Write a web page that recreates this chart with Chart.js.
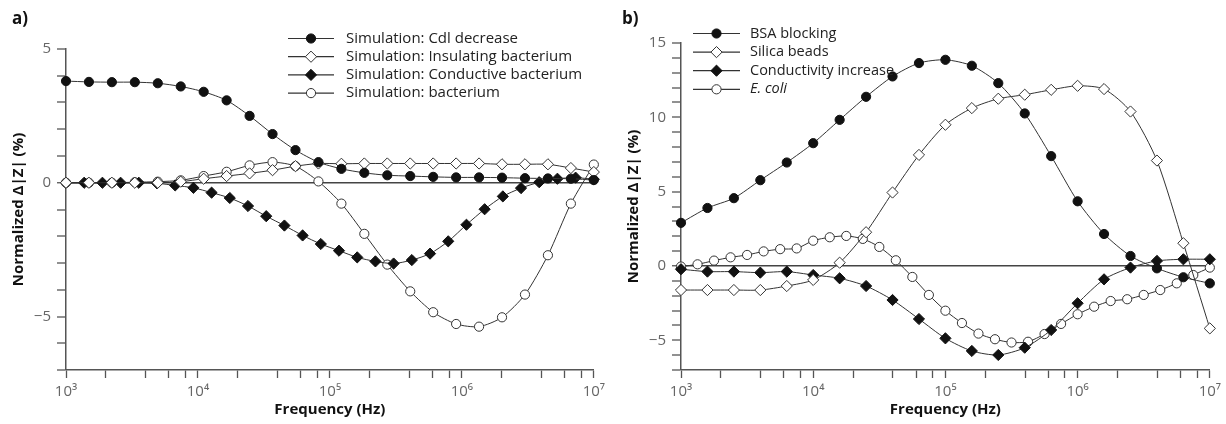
<!DOCTYPE html>
<html>
<head>
<meta charset="utf-8">
<script src="https://cdn.jsdelivr.net/npm/chart.js@4/dist/chart.umd.min.js"></script>
<style>
  body { margin: 0; background: #fff; width: 1226px; height: 424px; overflow: hidden; position: relative; font-family: 'Open Sans', sans-serif; }
  .panel { position: absolute; top: 0; height: 424px; }
  .tag { position: absolute; top: 6px; font-weight: bold; font-size: 17px; color: #111; }
</style>
</head>
<body>
<div class="panel" style="left:0;width:610px"><canvas id="chartA" width="610" height="424"></canvas></div>
<div class="panel" style="left:610px;width:616px"><canvas id="chartB" width="616" height="424"></canvas></div>
<div class="tag" style="left:12px">a)</div>
<div class="tag" style="left:622px">b)</div>
<script>
// frequencies (Hz)
const freqA = [1000, 1492, 2227, 3323, 4961, 7404, 11050, 16490, 24620, 36740, 54840, 81850,
  122200, 182300, 272200, 406200, 606300, 904900, 1350000, 2015000, 3008000, 4489000, 6700000, 10000000];
const freqACond = [1000, 1373, 1888, 2593, 3562, 4894, 6723, 9237, 12690, 17430, 23950, 32910, 45210,
  62120, 85330, 117200, 161100, 221300, 304000, 417700, 573800, 788300, 1083000, 1488000, 2044000,
  2808000, 3857000, 5298000, 7279000, 10000000];
const freqB = [1000, 1585, 2512, 3981, 6310, 10000, 15849, 25119, 39811, 63096, 100000, 158489,
  251189, 398107, 630957, 1000000, 1584893, 2511886, 3981072, 6309573, 10000000];
const freqEcoli = [1000, 1334, 1778, 2371, 3162, 4217, 5623, 7499, 10000, 13335, 17783, 23714, 31623,
  42170, 56234, 74989, 100000, 133352, 177828, 237137, 316228, 421697, 562341, 749894, 1000000,
  1333521, 1778279, 2371374, 3162278, 4216965, 5623413, 7498942, 10000000];

// panel a: simulations (%)
const cdlDecrease = [3.8, 3.77, 3.76, 3.76, 3.72, 3.6, 3.4, 3.08, 2.5, 1.82, 1.22, 0.77,
  0.52, 0.37, 0.28, 0.25, 0.22, 0.2, 0.2, 0.19, 0.17, 0.16, 0.15, 0.1];
const insulatingBact = [0, 0, 0, 0, 0, 0.04, 0.15, 0.25, 0.35, 0.47, 0.62, 0.72,
  0.71, 0.72, 0.72, 0.72, 0.72, 0.72, 0.72, 0.69, 0.69, 0.69, 0.55, 0.4];
const conductiveBact = [0, 0, 0, 0, 0, -0.02, -0.1, -0.19, -0.37, -0.57, -0.87, -1.25, -1.6, -1.97,
  -2.29, -2.54, -2.79, -2.94, -3.02, -2.89, -2.65, -2.19, -1.57, -0.99, -0.51, -0.2, 0.02, 0.15, 0.19, 0.13];
const bacterium = [0, 0, 0, 0.02, 0.04, 0.09, 0.25, 0.41, 0.65, 0.77, 0.62, 0.05,
  -0.78, -1.91, -3.06, -4.06, -4.84, -5.28, -5.38, -5.03, -4.18, -2.71, -0.78, 0.68];

// panel b: measurements (%)
const bsaBlocking = [2.9, 3.9, 4.56, 5.77, 6.96, 8.26, 9.83, 11.38, 12.75, 13.65, 13.87, 13.47,
  12.3, 10.26, 7.39, 4.35, 2.15, 0.67, -0.16, -0.76, -1.17];
const silicaBeads = [-1.62, -1.62, -1.62, -1.62, -1.35, -0.94, 0.22, 2.27, 4.94, 7.47, 9.5, 10.62,
  11.25, 11.52, 11.85, 12.12, 11.9, 10.39, 7.09, 1.53, -4.2];
const conductivityIncrease = [-0.22, -0.38, -0.38, -0.45, -0.38, -0.61, -0.83, -1.35, -2.29, -3.57,
  -4.87, -5.72, -5.99, -5.5, -4.31, -2.51, -0.9, -0.11, 0.34, 0.45, 0.45];
const eColi = [-0.04, 0.11, 0.36, 0.58, 0.74, 0.98, 1.13, 1.18, 1.7, 1.93, 2.02, 1.82, 1.28, 0.38,
  -0.74, -1.95, -3.01, -3.84, -4.55, -4.93, -5.15, -5.1, -4.58, -3.9, -3.25, -2.74, -2.36, -2.24,
  -1.95, -1.62, -1.17, -0.61, -0.11];

const xMajor = [1e3, 1e4, 1e5, 1e6, 1e7];
const xMajorLabels = ['10³', '10⁴', '10⁵', '10⁶', '10⁷'];
const xMinorSteps = [2, 4, 6, 8];

Chart.defaults.font.family = "'Open Sans', sans-serif";

const INK = '#111';
const LINE = '#333';

// marker styles
const filledCircle = { pointStyle: 'circle', pointRadius: 4.6, pointBackgroundColor: INK, pointBorderColor: INK };
const openCircle = { pointStyle: 'circle', pointRadius: 4.6, pointBackgroundColor: '#fff', pointBorderColor: LINE };
const filledDiamond = { pointStyle: 'rectRot', pointRadius: 5.6, pointBackgroundColor: INK, pointBorderColor: INK };
const openDiamond = { pointStyle: 'rectRot', pointRadius: 5.6, pointBackgroundColor: '#fff', pointBorderColor: LINE };

function series(label, xs, ys, style, italic) {
    return Object.assign({
        label: label,
        data: xs.map((x, i) => ({ x: x, y: ys[i] })),
        borderColor: LINE,
        borderWidth: 1,
        pointBorderWidth: 1,
        tension: 0.25,
        clip: false,
        italic: !!italic
    }, style);
}

const xTickList = [];
for (let i = 0; i < xMajor.length; i++) {
    xTickList.push(xMajor[i]);
    if (i < xMajor.length - 1) xMinorSteps.forEach(m => xTickList.push(xMajor[i] * m));
}

function drawMarker(ctx, ds, x, y) {
    ctx.save();
    ctx.fillStyle = ds.pointBackgroundColor;
    ctx.strokeStyle = ds.pointBorderColor;
    ctx.lineWidth = 1;
    ctx.beginPath();
    if (ds.pointStyle === 'circle') {
        ctx.arc(x, y, ds.pointRadius, 0, Math.PI * 2);
    } else {
        const r = ds.pointRadius;
        ctx.moveTo(x, y - r); ctx.lineTo(x + r, y); ctx.lineTo(x, y + r); ctx.lineTo(x - r, y); ctx.closePath();
    }
    ctx.fill();
    ctx.stroke();
    ctx.restore();
}

// legend: line through marker, text at right
const lineLegend = {
    id: 'lineLegend',
    afterDraw(chart, args, opts) {
        const ctx = chart.ctx;
        chart.data.datasets.forEach((ds, i) => {
            const y = opts.y + i * opts.gap;
            ctx.save();
            ctx.strokeStyle = LINE;
            ctx.lineWidth = 1.2;
            ctx.beginPath();
            ctx.moveTo(opts.x0, y); ctx.lineTo(opts.x1, y);
            ctx.stroke();
            ctx.restore();
            drawMarker(ctx, ds, (opts.x0 + opts.x1) / 2, y);
            ctx.save();
            ctx.fillStyle = '#222';
            ctx.font = (ds.italic ? 'italic ' : '') + opts.size + "px 'Open Sans', sans-serif";
            ctx.textBaseline = 'middle';
            ctx.fillText(ds.label, opts.tx, y);
            ctx.restore();
        });
    }
};

function makeOptions(yMin, yMax, yWidth, padRight, padTop, titlePad, legend) {
    return {
        responsive: false,
        animation: false,
        layout: { padding: { top: padTop, right: padRight, left: 0, bottom: 0 } },
        plugins: { legend: { display: false }, tooltip: { enabled: false }, lineLegend: legend },
        scales: {
            x: {
                type: 'logarithmic',
                min: 1e3,
                max: 1e7,
                afterBuildTicks: s => { s.ticks = xTickList.map(v => ({ value: v })); },
                afterFit: s => { s.height = 54; },
                border: { color: '#555', width: 1.5 },
                grid: { drawOnChartArea: false, tickLength: 8, tickColor: '#555', tickWidth: 1.3 },
                ticks: {
                    autoSkip: false, maxRotation: 0, padding: 5, color: '#666',
                    font: { size: 15 },
                    callback: v => { const k = xMajor.indexOf(v); return k >= 0 ? xMajorLabels[k] : ''; }
                },
                title: { display: true, text: 'Frequency (Hz)', color: '#111', font: { size: 15, weight: 'bold' }, padding: { top: 0, bottom: 5 } }
            },
            y: {
                min: yMin,
                max: yMax,
                afterFit: s => { s.width = yWidth; },
                border: { color: '#555', width: 1.5 },
                grid: {
                    drawOnChartArea: true, tickLength: 9, tickWidth: 1.3, tickColor: '#555',
                    color: c => (c.tick && c.tick.value === 0) ? '#444' : 'rgba(0,0,0,0)',
                    lineWidth: c => (c.tick && c.tick.value === 0) ? 1.5 : 0
                },
                ticks: {
                    stepSize: 1, autoSkip: false, padding: 6, color: '#666', font: { size: 15 },
                    callback: v => (v % 5 === 0) ? String(v).replace('-', '\u2212') : ''
                },
                title: { display: true, text: 'Normalized \u0394|Z| (%)', color: '#111', font: { size: 15, weight: 'bold' }, padding: { top: titlePad, bottom: 0 } }
            }
        }
    };
}

new Chart(document.getElementById('chartA'), {
    type: 'line',
    data: {
        datasets: [
            series('Simulation: Cdl decrease', freqA, cdlDecrease, filledCircle),
            series('Simulation: Insulating bacterium', freqA, insulatingBact, openDiamond),
            series('Simulation: Conductive bacterium', freqACond, conductiveBact, filledDiamond),
            series('Simulation: bacterium', freqA, bacterium, openCircle)
        ]
    },
    options: makeOptions(-7, 5, 66, 11, 49, 10, { x0: 288, x1: 334, tx: 346, y: 38.5, gap: 18.2, size: 15 }),
    plugins: [lineLegend]
});

new Chart(document.getElementById('chartB'), {
    type: 'line',
    data: {
        datasets: [
            series('BSA blocking', freqB, bsaBlocking, filledCircle),
            series('Silica beads', freqB, silicaBeads, openDiamond),
            series('Conductivity increase', freqB, conductivityIncrease, filledDiamond),
            series('E. coli', freqEcoli, eColi, openCircle, true)
        ]
    },
    options: makeOptions(-7, 15, 71, 16, 43, 15, { x0: 83, x1: 130, tx: 140, y: 33.5, gap: 18.6, size: 14.5 }),
    plugins: [lineLegend]
});
</script>
</body>
</html>
